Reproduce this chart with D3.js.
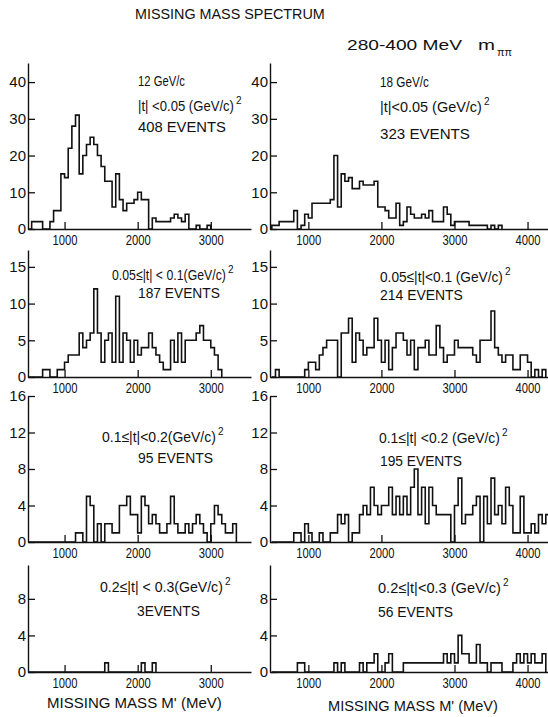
<!DOCTYPE html>
<html>
<head>
<meta charset="utf-8">
<script src="https://cdn.jsdelivr.net/npm/d3@7"></script>
<style>
  body { margin: 0; background: #fff; }
  text { font-family: "Liberation Sans", Arial, sans-serif; fill: #111; }
</style>
</head>
<body>
<div id="chart"></div>
<script>
// histogram bins: 50 MeV wide, first bin starts at 500 MeV
var binStart = 500, binWidth = 50;

var counts12_t005 = [0,2,2,2,0,0,2,5,5,15, 14,22,28,31,15,20,23,25,23,20,
  17,13,13,6,15,8,5,7,7,8, 10,8,8,0,3,2,2,2,2,3, 4,3,2,4,0,0,1,0,0,1];
var counts18_t005 = [1,1,2,2,2,2,5,0,1,4, 3,7,7,7,7,7,8,20,6,15,
  13,14,11,11,13,12,12,12,13,6, 6,5,3,3,7,1,2,6,4,3, 3,4,3,5,2,2,2,6,4,1,
  2,2,2,2,1,1,1,1,1,0, 1,0,1];
var counts12_t01 = [0,0,0,0,1,1,0,0,1,1, 2,3,3,3,6,4,5,6,12,6,
  2,5,6,2,11,2,6,5,2,5, 3,4,4,6,4,3,2,1,1,5, 2,6,2,5,5,5,6,7,5,5, 4,3,1];
var counts18_t01 = [0,1,0,0,0,0,0,0,0,1, 2,2,1,3,4,5,5,5,0,6,
  6,8,2,6,5,3,4,4,8,5, 2,5,1,4,6,6,5,3,5,1, 4,4,5,3,3,7,4,2,3,3,
  5,4,4,4,4,3,2,5,5,5, 9,4,3,2,3,3,1,1,3,3, 2,0,1,0,1];
var counts12_t02 = [0,0,0,0,0,0,0,0,0,0, 0,0,0,1,1,0,5,4,0,2,
  0,2,2,1,1,4,4,5,3,3, 1,5,4,2,3,2,1,1,2,5, 2,1,1,2,1,2,3,2,1,0, 2,4,3,2,1,1,2];
var counts18_t02 = [0,0,0,0,0,0,1,1,0,2, 1,0,0,1,0,0,1,1,3,2,
  3,0,1,1,3,4,3,6,4,3, 4,4,6,3,5,3,5,3,6,8, 3,6,2,6,4,3,3,3,3,0,
  4,7,2,3,3,4,5,0,5,2, 7,3,4,2,6,4,1,1,5,1, 1,2,1,3,2,3];
var counts12_t03 = [0,0,0,0,0,0,0,0,0,0, 0,0,0,0,0,0,0,0,0,0,
  0,1,0,0,0,0,0,0,0,0, 0,1,0,0,1];
var counts18_t03 = [0,0,0,0,0,0,0,1,1,0, 0,0,0,0,0,0,0,1,0,1,
  0,0,0,0,1,0,1,1,2,0, 0,1,2,0,0,0,1,1,1,1, 1,1,1,1,1,1,1,2,1,2,
  1,4,2,2,1,1,3,1,1,0, 1,1,1,0,0,0,1,2,1,2, 1,2,1,1,2];

var leftTicks = [1000, 2000, 3000];
var rightTicks = [1000, 2000, 3000, 4000];
var yTicks = [[0,10,20,30,40], [0,5,10,15], [0,4,8,12,16], [0,4,8]];

var momenta = ["12 GeV/c", "18 GeV/c"];
var tCuts = ["|t| <0.05 (GeV/c)", "|t|<0.05 (GeV/c)",
  "0.05\u2264|t| < 0.1(GeV/c)", "0.05\u2264|t|<0.1 (GeV/c)",
  "0.1\u2264|t|<0.2(GeV/c)", "0.1\u2264|t| <0.2 (GeV/c)",
  "0.2\u2264|t| < 0.3(GeV/c)", "0.2\u2264|t|<0.3 (GeV/c)"];
var eventLabels = ["408 EVENTS", "323 EVENTS", "187 EVENTS", "214 EVENTS",
  "95 EVENTS", "195 EVENTS", "3EVENTS", "56 EVENTS"];

var width = 548, height = 717;
var svg = d3.select('#chart').append('svg')
    .attr('width', width)
    .attr('height', height);

var xLeft = d3.scaleLinear().domain([500, 3550]).range([28, 251]);
var xRight = d3.scaleLinear().domain([475, 4280]).range([270, 548]);

// one y scale per row, domain runs up to the top of the drawn axis line
var rowY = [
  d3.scaleLinear().domain([0, 45.2]).range([229, 63]),
  d3.scaleLinear().domain([0, 17.3]).range([377, 250]),
  d3.scaleLinear().domain([0, 16]).range([542, 396]),
  d3.scaleLinear().domain([0, 11.7]).range([672, 565])
];

var panels = [
  { row: 0, side: 'L', counts: counts12_t005 },
  { row: 0, side: 'R', counts: counts18_t005 },
  { row: 1, side: 'L', counts: counts12_t01 },
  { row: 1, side: 'R', counts: counts18_t01 },
  { row: 2, side: 'L', counts: counts12_t02 },
  { row: 2, side: 'R', counts: counts18_t02 },
  { row: 3, side: 'L', counts: counts12_t03 },
  { row: 3, side: 'R', counts: counts18_t03 }
];

function styleAxis(g) {
  g.attr('font-size', 15)
   .attr('font-family', '"Liberation Sans", Arial, sans-serif')
   .attr('color', '#111');
  g.select('.domain').attr('stroke-width', 1.4);
  g.selectAll('.tick line').attr('stroke-width', 1.3);
}

panels.forEach(function(p) {
  var x = p.side === 'L' ? xLeft : xRight;
  var y = rowY[p.row];

  svg.append('g')
      .attr('transform', 'translate(0,' + y(0) + ')')
      .call(d3.axisBottom(x)
        .tickValues(p.side === 'L' ? leftTicks : rightTicks)
        .tickSize(-7).tickSizeOuter(0).tickPadding(5)
        .tickFormat(d3.format('d')))
      .call(styleAxis)
      .selectAll('text')
        .attr('textLength', 25)
        .attr('lengthAdjust', 'spacingAndGlyphs');

  svg.append('g')
      .attr('transform', 'translate(' + x.range()[0] + ',0)')
      .call(d3.axisLeft(y)
        .tickValues(yTicks[p.row])
        .tickSize(-7).tickSizeOuter(0).tickPadding(2))
      .call(styleAxis);

  var pts = [[binStart, 0]]
    .concat(p.counts.map(function(c, i) { return [binStart + i * binWidth, c]; }))
    .concat([[binStart + p.counts.length * binWidth, 0]]);

  var line = d3.line()
      .x(function(d) { return x(d[0]); })
      .y(function(d) { return y(d[1]); })
      .curve(d3.curveStepAfter);

  svg.append('path')
      .datum(pts)
      .attr('d', line)
      .attr('fill', 'none')
      .attr('stroke', '#111')
      .attr('stroke-width', 1.6)
      .attr('stroke-linejoin', 'miter');
});

// text squeezed horizontally to width w (the lettering in the original is narrow)
function label(x, y, str, w, size) {
  var g = svg.append('g').attr('transform', 'translate(' + x + ',' + y + ')');
  var t = g.append('text')
      .attr('font-size', size || 15)
      .text(str);
  if (w) {
    var n = t.node().getComputedTextLength();
    g.attr('transform', 'translate(' + x + ',' + y + ') scale(' + (w / n) + ',1)');
  }
  return g;
}

// title block
label(135, 19, 'MISSING MASS SPECTRUM', 190);
label(347, 50, '280-400 MeV', 115);
label(478, 50, 'm', 17);
label(497, 56, '\u03c0\u03c0', 15, 10);

// panel texts: [x, baseline of t line, t width, x & baseline of events line, events width]
var textLayout = [
  [138, 111, 96, 138, 132, 88],
  [380, 112, 102, 380, 139, 90],
  [112, 280, 114, 138, 298, 82],
  [380, 282, 123, 380, 300, 83],
  [102, 442, 114, 138, 463, 75],
  [379, 443, 121, 380, 466, 82],
  [100, 592, 123, 137, 616, 63],
  [378, 593, 123, 378, 617, 75]
];

label(138, 86, momenta[0], 47);
label(380, 87, momenta[1], 49);

textLayout.forEach(function(l, i) {
  label(l[0], l[1], tCuts[i], l[2]);
  label(l[0] + l[2] + 2, l[1] - 7, '2', null, 10);
  label(l[3], l[4], eventLabels[i], l[5]);
});

label(47, 708, "MISSING MASS M' (MeV)", 175);
label(328, 711, "MISSING MASS M' (MeV)", 170);
</script>
</body>
</html>
